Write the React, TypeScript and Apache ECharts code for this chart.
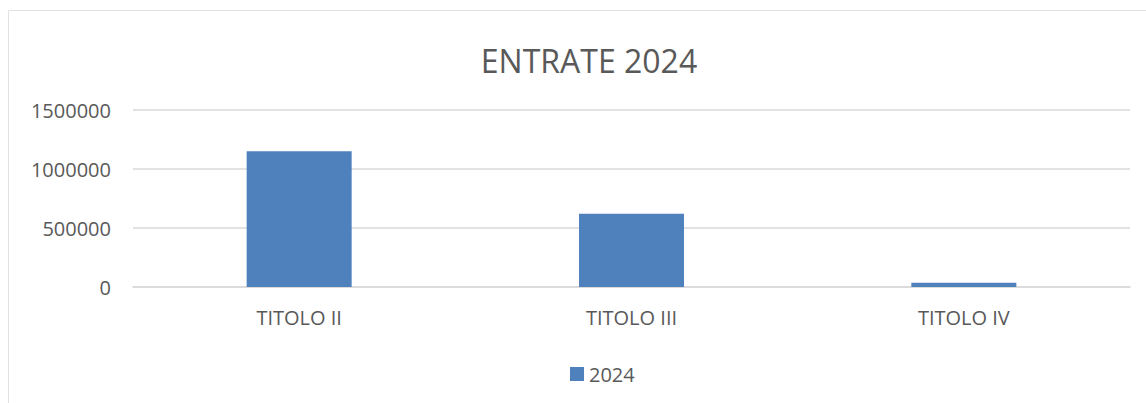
import React, { useEffect, useRef } from "react";
import * as echarts from "echarts";

const categories = ["TITOLO II", "TITOLO III", "TITOLO IV"];
const values2024 = [1150000, 620000, 37000];
const seriesName = "2024";
const titleText = "ENTRATE 2024";

export default function App() {
  const ref = useRef<HTMLDivElement>(null);
  useEffect(() => {
    if (!ref.current) return;
    const chart = echarts.init(ref.current, null, { renderer: "svg" });
    const font = "'Open Sans', 'Noto Sans', sans-serif";
    chart.setOption({
      animation: false,
      backgroundColor: "#ffffff",
      textStyle: { fontFamily: font },
      graphic: [
        {
          type: "rect",
          shape: { x: 8.5, y: 10.5, width: 1300, height: 600 },
          style: { fill: "none", stroke: "#e2e2e2", lineWidth: 1 },
          silent: true,
          z: -1,
        },
      ],
      title: {
        text: titleText,
        left: 584,
        top: 39,
        textAlign: "center",
        textStyle: { fontFamily: font, fontSize: 32, fontWeight: "normal", color: "#595959" },
      },
      legend: {
        data: [seriesName],
        left: 570,
        top: 364,
        icon: "rect",
        itemWidth: 14,
        itemHeight: 14,
        itemGap: 10,
        textStyle: { fontFamily: font, fontSize: 20, color: "#595959", padding: [0, 0, 0, 0] },
        padding: 0,
      },
      grid: { left: 133, right: 16, top: 110, bottom: 116 },
      xAxis: {
        type: "category",
        data: categories,
        axisLine: { show: true, lineStyle: { color: "#d9d9d9", width: 1.5 } },
        axisTick: { show: false },
        axisLabel: { fontFamily: font, fontSize: 20, color: "#595959", margin: 20 },
      },
      yAxis: {
        type: "value",
        min: 0,
        max: 1500000,
        interval: 500000,
        axisLine: { show: false },
        axisTick: { show: false },
        splitLine: { lineStyle: { color: "#d9d9d9", width: 1.5 } },
        axisLabel: {
          fontFamily: font,
          fontSize: 20,
          color: "#595959",
          margin: 22,
          formatter: (v: number) => String(v),
        },
      },
      series: [
        {
          name: seriesName,
          type: "bar",
          data: values2024,
          barWidth: 105,
          itemStyle: { color: "#4f81bd" },
        },
      ],
    });
    return () => chart.dispose();
  }, []);
  return (
    <div
      ref={ref}
      style={{ position: "fixed", left: 0, top: 0, width: 1146, height: 403 }}
    />
  );
}
